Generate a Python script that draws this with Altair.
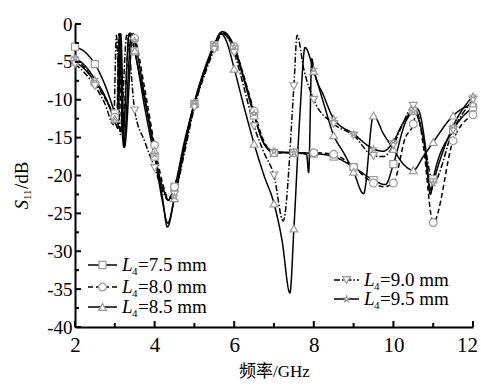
import altair as alt
import pandas as pd

# ---------------- data ----------------
freq_75 = [2.0, 2.25, 2.5, 2.75, 3.0, 3.06, 3.13, 3.2, 3.36, 3.5, 3.75, 4.0, 4.2, 4.35, 4.5,
           4.75, 5.0, 5.25, 5.5, 5.68, 5.85, 6.0, 6.25, 6.5, 6.75, 7.0, 7.5, 8.0, 8.5, 9.0,
           9.5, 9.8, 10.0, 10.3, 10.5, 10.6, 10.8, 10.93, 11.0, 11.5, 12.0]
s11_75 = [-3.0, -3.7, -5.3, -8.0, -11.8, -12.8, -1.5, -15.2, -1.3, -3.6, -11.0, -17.5, -21.5, -23.2, -21.5,
          -15.5, -10.5, -6.4, -2.8, -1.2, -1.8, -3.3, -7.5, -12.1, -15.8, -17.0, -17.0, -17.1, -17.5, -18.9,
          -20.6, -21.2, -18.5, -13.0, -11.5, -11.2, -16.0, -22.5, -20.5, -14.0, -11.0]

freq_80 = [2.0, 2.25, 2.5, 2.75, 3.0, 3.05, 3.1, 3.18, 3.38, 3.5, 3.75, 4.0, 4.2, 4.35, 4.5,
           4.75, 5.0, 5.25, 5.5, 5.7, 5.85, 6.0, 6.25, 6.5, 6.75, 7.0, 7.5, 8.0, 8.5, 9.0,
           9.5, 9.75, 10.0, 10.3, 10.5, 10.58, 10.75, 11.0, 11.5, 12.0]
s11_80 = [-4.7, -5.8, -7.8, -9.8, -12.3, -12.8, -1.3, -14.0, -1.2, -1.9, -8.5, -16.0, -21.0, -23.0, -21.5,
          -16.0, -10.6, -6.5, -3.0, -1.1, -1.7, -3.0, -7.0, -11.5, -15.5, -17.0, -17.0, -17.0, -17.2, -18.9,
          -21.0, -21.5, -21.0, -15.0, -13.2, -11.5, -16.0, -26.2, -15.4, -12.0]

freq_85 = [2.0, 2.25, 2.5, 2.75, 3.0, 3.06, 3.12, 3.22, 3.42, 3.5, 3.75, 4.0, 4.2, 4.32, 4.5,
           4.75, 5.0, 5.25, 5.5, 5.65, 5.8, 6.0, 6.25, 6.5, 6.75, 7.0, 7.2, 7.4, 7.5, 7.65,
           7.78, 8.0, 8.25, 8.5, 8.75, 9.0, 9.25, 9.5, 9.75, 10.0, 10.25, 10.5, 10.75, 11.0, 11.5, 12.0]
s11_85 = [-5.0, -6.0, -7.6, -9.6, -12.5, -13.3, -1.3, -16.2, -1.3, -3.5, -10.0, -16.7, -23.0, -26.8, -23.0,
          -16.5, -10.5, -6.2, -3.0, -1.2, -2.2, -5.9, -11.0, -15.8, -20.0, -23.7, -28.5, -35.5, -27.0, -12.0,
          -3.1, -6.2, -10.5, -14.7, -17.0, -19.5, -22.4, -12.1, -14.5, -16.5, -18.5, -19.3, -17.5, -15.6, -12.1, -10.5]

freq_90 = [2.0, 2.25, 2.5, 2.75, 2.97, 3.04, 3.14, 3.3, 3.5, 3.75, 4.0, 4.2, 4.35, 4.5, 4.75,
           5.0, 5.25, 5.5, 5.7, 5.85, 6.0, 6.25, 6.5, 6.75, 7.0, 7.23, 7.5, 7.58, 7.75, 8.0,
           8.5, 9.0, 9.5, 9.75, 10.0, 10.25, 10.5, 10.75, 11.0, 11.5, 12.0]
s11_90 = [-5.3, -6.5, -8.2, -10.5, -13.3, -1.5, -14.6, -1.5, -11.4, -15.5, -19.0, -22.0, -23.3, -22.5, -17.0,
          -11.0, -6.8, -3.4, -1.3, -1.9, -3.8, -8.5, -13.5, -17.0, -20.0, -26.0, -8.2, -1.5, -6.0, -10.0,
          -13.2, -14.7, -17.4, -17.5, -16.0, -13.0, -10.8, -15.0, -20.9, -14.0, -10.0]

freq_95 = [2.0, 2.25, 2.5, 2.75, 3.0, 3.08, 3.15, 3.24, 3.46, 3.5, 3.75, 4.0, 4.2, 4.33, 4.5,
           4.75, 5.0, 5.25, 5.5, 5.7, 5.85, 6.0, 6.25, 6.5, 6.75, 7.0, 7.5, 7.82, 7.87, 7.95,
           8.0, 8.25, 8.5, 9.0, 9.5, 9.75, 10.0, 10.25, 10.5, 10.75, 10.95, 11.0, 11.5, 12.0]
s11_95 = [-4.5, -5.5, -7.3, -9.5, -12.8, -13.8, -1.3, -16.3, -1.3, -2.2, -9.5, -17.2, -23.5, -26.3, -22.8,
          -16.0, -10.3, -6.0, -2.7, -1.0, -1.5, -3.0, -7.2, -11.8, -15.8, -16.8, -17.0, -17.2, -19.6, -4.6,
          -6.0, -9.5, -12.5, -14.5, -16.5, -16.8, -15.5, -13.0, -11.5, -15.0, -22.0, -21.0, -13.5, -9.5]

series_keys = ["7.5", "8.0", "8.5", "9.0", "9.5"]
series_freqs = [freq_75, freq_80, freq_85, freq_90, freq_95]
series_vals = [s11_75, s11_80, s11_85, s11_90, s11_95]

x_major = [2, 4, 6, 8, 10, 12]
x_minor = [3, 5, 7, 9, 11]
y_major = [-40, -35, -30, -25, -20, -15, -10, -5, 0]
y_minor = [-37.5, -32.5, -27.5, -22.5, -17.5, -12.5, -7.5, -2.5]

# ---------------- styles ----------------
SERIF = "Liberation Serif"
STAR = ("M0,-1L0.24,-0.33L0.95,-0.31L0.38,0.12L0.59,0.81L0,0.4L-0.59,0.81"
        "L-0.38,0.12L-0.95,-0.31L-0.24,-0.33Z")
style = {
    "7.5": dict(dash=[1, 0], shape="square", size=50),
    "8.0": dict(dash=[5, 3], shape="circle", size=60),
    "8.5": dict(dash=[1, 0], shape="triangle-up", size=60),
    "9.0": dict(dash=[6, 2, 1.5, 2], shape="triangle-down", size=60),
    "9.5": dict(dash=[1, 0], shape=STAR, size=35),
}
# legend placement (pixels inside the plot area)
legend_pos = {
    "7.5": (13, 42, 241), "8.0": (13, 42, 263), "8.5": (13, 42, 283),
    "9.0": (259, 284, 256), "9.5": (259, 284, 275),
}

rows = []
for key, fs, vs in zip(series_keys, series_freqs, series_vals):
    for f, s in zip(fs, vs):
        rows.append({"series": key, "f": f, "s": s,
                     "marker": abs(f * 2 - round(f * 2)) < 1e-9})
df = pd.DataFrame(rows)

xs = alt.Scale(domain=[2, 12], nice=False, zero=False)
ys = alt.Scale(domain=[-40, 0], nice=False, zero=False)

xax = alt.Axis(values=x_major, ticks=False, grid=False, labelFont=SERIF, labelFontSize=21,
               labelColor="black", labelPadding=7, labelFlush=False, labelOverlap=False,
               labelOffset={"condition": {"test": "datum.value == 12", "value": -6}, "value": 0},
               domainColor="black",
               domainWidth=2, title="频率/GHz", titleFont=SERIF + ", Noto Sans CJK SC",
               titleFontSize=17, titleFontWeight="normal", titleColor="black", titlePadding=8)
yax = alt.Axis(values=y_major, ticks=False, grid=False, labelFont=SERIF, labelFontSize=19,
               labelColor="black", labelPadding=3, labelFlush=False, labelOverlap=False,
               domainColor="black", domainWidth=2, title="",
               labelExpr="datum.value == 0 ? '0' : '-' + abs(datum.value)")


def X(field):
    return alt.X(field, scale=xs, axis=xax, title="频率/GHz")


def Y(field):
    return alt.Y(field, scale=ys, axis=yax, title="")


base = alt.Chart(df)
layers = []

for key in series_keys:
    st = style[key]
    sub = base.transform_filter(alt.datum.series == key)
    layers.append(sub.mark_line(interpolate="monotone", color="black", strokeWidth=1.5,
                                strokeDash=st["dash"], clip=True).encode(
        x=X("f:Q"), y=Y("s:Q"), order="f:Q"))
for key in series_keys:
    st = style[key]
    sub = base.transform_filter(alt.datum.series == key).transform_filter(alt.datum.marker)
    layers.append(sub.mark_point(shape=st["shape"], size=st["size"], filled=True, fill="white",
                                 stroke="#9a9a9a", strokeWidth=1.2, opacity=1).encode(
        x=X("f:Q"), y=Y("s:Q")))

# inward ticks
tick_df_x = pd.DataFrame({"f": x_major})
tick_df_xm = pd.DataFrame({"f": x_minor})
tick_df_y = pd.DataFrame({"s": y_major})
tick_df_ym = pd.DataFrame({"s": y_minor})
layers.append(alt.Chart(tick_df_x).mark_rule(color="black", strokeWidth=2).encode(
    x=X("f:Q"), y=alt.value(303), y2=alt.value(297)))
layers.append(alt.Chart(tick_df_xm).mark_rule(color="black", strokeWidth=2).encode(
    x=X("f:Q"), y=alt.value(303), y2=alt.value(299)))
layers.append(alt.Chart(tick_df_y).mark_rule(color="black", strokeWidth=2).encode(
    y=Y("s:Q"), x=alt.value(0), x2=alt.value(6)))
layers.append(alt.Chart(tick_df_ym).mark_rule(color="black", strokeWidth=2).encode(
    y=Y("s:Q"), x=alt.value(0), x2=alt.value(4)))

# legend
one = pd.DataFrame({"a": [0]})
for key in series_keys:
    st = style[key]
    x0, x1, yy = legend_pos[key]
    c = alt.Chart(one)
    layers.append(c.mark_rule(color="black", strokeWidth=1.5, strokeDash=st["dash"]).encode(
        x=alt.value(x0), x2=alt.value(x1), y=alt.value(yy)))
    layers.append(c.mark_point(shape=st["shape"], size=st["size"], filled=True, fill="white",
                               stroke="#9a9a9a", strokeWidth=1.2, opacity=1).encode(
        x=alt.value((x0 + x1) / 2), y=alt.value(yy)))
    layers.append(c.mark_text(text="L", font=SERIF, fontStyle="italic", fontSize=19,
                              align="left", baseline="middle", color="black").encode(
        x=alt.value(x1 + 5), y=alt.value(yy)))
    layers.append(c.mark_text(text="4", font=SERIF, fontSize=11, align="left",
                              baseline="middle", color="black").encode(
        x=alt.value(x1 + 15), y=alt.value(yy + 7)))
    layers.append(c.mark_text(text="=" + key + " mm", font=SERIF, fontSize=19, align="left",
                              baseline="middle", color="black").encode(
        x=alt.value(x1 + 21), y=alt.value(yy)))

# y-axis title: S11/dB (rotated)
c = alt.Chart(one)
ty = 176
layers.append(c.mark_text(text="S", font=SERIF, fontStyle="italic", fontSize=19, angle=270,
                          align="right", baseline="middle", color="black").encode(
    x=alt.value(-53), y=alt.value(ty)))
layers.append(c.mark_text(text="11", font=SERIF, fontSize=11, angle=270, align="left",
                          baseline="middle", color="black", dy=6).encode(
    x=alt.value(-53), y=alt.value(ty)))
layers.append(c.mark_text(text="/dB", font=SERIF, fontSize=19, angle=270, align="left",
                          baseline="middle", color="black", dx=11).encode(
    x=alt.value(-53), y=alt.value(ty)))

chart = alt.layer(*layers).properties(
    width=398, height=303,
    autosize=alt.AutoSizeParams(type="none"),
    padding={"left": 75, "top": 24, "right": 8, "bottom": 61},
    background="white",
).configure_view(stroke=None)

chart.save("out.html", embed_options={"renderer": "svg", "actions": False})
